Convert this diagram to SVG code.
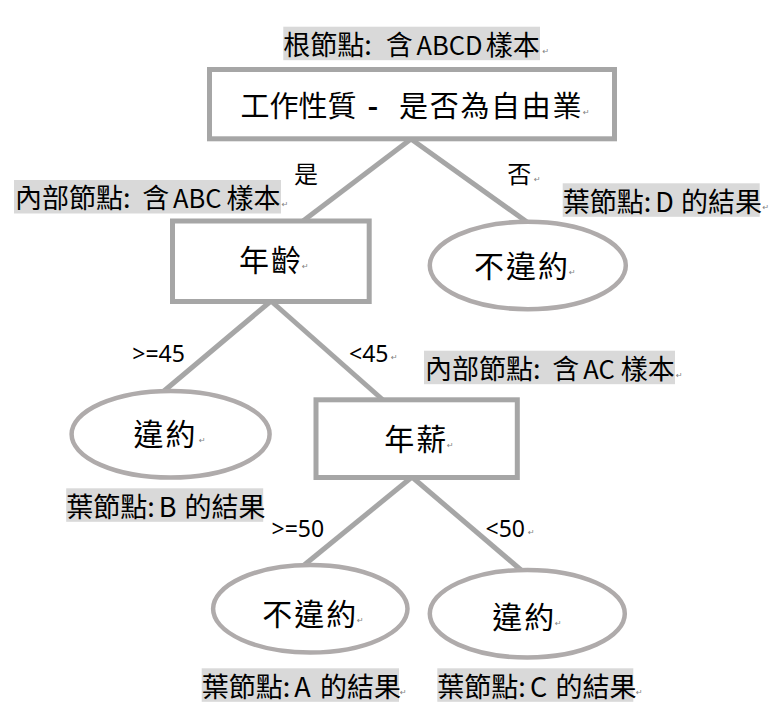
<svg xmlns="http://www.w3.org/2000/svg" width="777" height="713" viewBox="0 0 777 713">
<style>
.box{fill:#fff;stroke:#a6a6a6;stroke-width:5}
.oval{fill:#fff;stroke:#afabab;stroke-width:4.5}
.edge{stroke:#a6a6a6;stroke-width:5;fill:none}
.hl{fill:#d9d9d9}
.cjk{font-family:"Noto Sans CJK TC","Noto Sans CJK SC",sans-serif;fill:#000}
.nt{font-size:30px;letter-spacing:2px}
.lb{font-size:27px}
.lat{font-size:25.5px}
.eg{font-size:24px}
.el{font-family:"Noto Sans","Noto Sans CJK TC",sans-serif;font-size:23px;fill:#000}
.rm{font-family:"DejaVu Sans",sans-serif;font-size:8px;fill:#808080}
</style>
<rect width="777" height="713" fill="#fff"/>
<g id="connectors">
<line class="edge" x1="411" y1="139" x2="303" y2="221"/>
<line class="edge" x1="411" y1="139" x2="527" y2="222"/>
<line class="edge" x1="271" y1="301" x2="164" y2="391"/>
<line class="edge" x1="271" y1="301" x2="383" y2="400"/>
<line class="edge" x1="412" y1="477" x2="303" y2="566"/>
<line class="edge" x1="412" y1="477" x2="521" y2="570"/>
<text class="cjk eg" x="294" y="183.3">是</text>
<text class="cjk eg" x="507.3" y="183.3">否</text>
<text class="rm" x="534" y="182">↵</text>
<text class="el" x="132.3" y="361.7">&gt;=45</text>
<text class="el" x="349" y="361.7">&lt;45</text>
<text class="rm" x="391" y="360">↵</text>
<text class="el" x="271.5" y="536.7">&gt;=50</text>
<text class="el" x="485.5" y="536.7">&lt;50</text>
<text class="rm" x="528" y="535">↵</text>
</g>
<g id="root">
<rect class="box" x="209.5" y="69.5" width="405" height="69.3"/>
<text class="cjk" font-size="29" y="117"><tspan x="240.5">工作性質</tspan> <tspan x="367.5" font-weight="bold">-</tspan> <tspan x="399" letter-spacing="1.7">是否為自由業</tspan></text>
<text class="rm" x="583" y="115">↵</text>
</g>
<g id="age">
<rect class="box" x="172.5" y="221" width="196.7" height="80.5"/>
<text class="cjk nt" x="239" y="271">年齡</text>
<text class="rm" x="302" y="269">↵</text>
</g>
<g id="no-default-top">
<ellipse class="oval" cx="527.8" cy="265.5" rx="98" ry="43.7"/>
<text class="cjk nt" x="474" y="277">不違約</text>
<text class="rm" x="569" y="275">↵</text>
</g>
<g id="default-left">
<ellipse class="oval" cx="170.6" cy="434.2" rx="99" ry="43.3"/>
<text class="cjk nt" x="133.6" y="444.6">違約</text>
<text class="rm" x="199" y="443">↵</text>
</g>
<g id="salary">
<rect class="box" x="316" y="399.8" width="201.3" height="77.7"/>
<text class="cjk nt" x="384.2" y="449.6">年薪</text>
<text class="rm" x="447" y="448">↵</text>
</g>
<g id="no-default-bottom">
<ellipse class="oval" cx="310.3" cy="608.8" rx="97.2" ry="43.7"/>
<text class="cjk nt" x="262.3" y="624.6">不違約</text>
<text class="rm" x="357" y="623">↵</text>
</g>
<g id="default-bottom">
<ellipse class="oval" cx="527.3" cy="613.7" rx="97.5" ry="43.8"/>
<text class="cjk nt" x="492.3" y="627.9">違約</text>
<text class="rm" x="555" y="626">↵</text>
</g>
<g id="label-root">
<rect class="hl" x="283.3" y="26.7" width="256.7" height="33.5"/>
<text class="cjk lb" y="55"><tspan x="283.3">根節點:</tspan> <tspan x="385.7">含</tspan> <tspan x="416.5" class="lat">ABCD</tspan> <tspan x="485.7">樣本</tspan></text>
<text class="rm" x="542.5" y="54">↵</text>
</g>
<g id="label-age">
<rect class="hl" x="14" y="180" width="267" height="33.5"/>
<text class="cjk lb" y="208.3"><tspan x="15">內部節點:</tspan> <tspan x="142.3">含</tspan> <tspan x="173" class="lat">ABC</tspan> <tspan x="226.4">樣本</tspan></text>
<text class="rm" x="281.7" y="207">↵</text>
</g>
<g id="label-d">
<rect class="hl" x="562.7" y="183.3" width="197" height="33.5"/>
<text class="cjk lb" y="211.5"><tspan x="562.7">葉節點:</tspan> <tspan x="655.3">D</tspan> <tspan x="681">的結果</tspan></text>
<text class="rm" x="762.5" y="210">↵</text>
</g>
<g id="label-salary">
<rect class="hl" x="424" y="350.7" width="251" height="33.5"/>
<text class="cjk lb" y="379"><tspan x="425">內部節點:</tspan> <tspan x="552.3">含</tspan> <tspan x="583.3" class="lat">AC</tspan> <tspan x="620.7">樣本</tspan></text>
<text class="rm" x="676" y="378">↵</text>
</g>
<g id="label-b">
<rect class="hl" x="66.2" y="488.3" width="197" height="33.5"/>
<text class="cjk lb" y="516.5"><tspan x="66.2">葉節點:</tspan> <tspan x="158.8">B</tspan> <tspan x="184.5">的結果</tspan></text>
</g>
<g id="label-a">
<rect class="hl" x="201.7" y="668.3" width="197.3" height="33.5"/>
<text class="cjk lb" y="696.5"><tspan x="201.7">葉節點:</tspan> <tspan x="294.3">A</tspan> <tspan x="320">的結果</tspan></text>
<text class="rm" x="400" y="695">↵</text>
</g>
<g id="label-c">
<rect class="hl" x="437.3" y="668.3" width="196" height="33.5"/>
<text class="cjk lb" y="696.5"><tspan x="437.3">葉節點:</tspan> <tspan x="529.9">C</tspan> <tspan x="555.6">的結果</tspan></text>
<text class="rm" x="636" y="695">↵</text>
</g>
</svg>
